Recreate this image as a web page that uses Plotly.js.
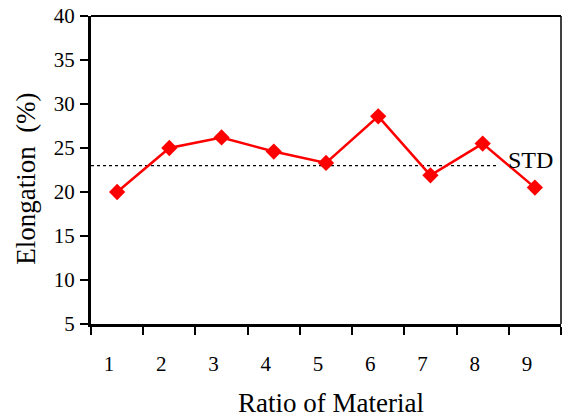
<!DOCTYPE html>
<html>
<head>
<meta charset="utf-8">
<script src="https://cdn.plot.ly/plotly-3.0.1.min.js"></script>
<style>html,body{margin:0;padding:0;background:#fff;}#chart{width:563px;height:417px;}</style>
</head>
<body>
<div id="chart"></div>
<script>
// Data
var categories = [1, 2, 3, 4, 5, 6, 7, 8, 9];
var elongation = [20.0, 25.0, 26.2, 24.6, 23.3, 28.6, 21.9, 25.5, 20.5];
var stdValue = 23.0;
var stdLineX = [0.5, 8.31];
var stdLabel = "STD";
var yTicks = [5, 10, 15, 20, 25, 30, 35, 40];
var xBoundaries = [0.5, 1.5, 2.5, 3.5, 4.5, 5.5, 6.5, 7.5, 8.5, 9.5];
var xTitle = "Ratio of Material";
var yTitle = "Elongation&nbsp;&nbsp;(%)";

var font = "Liberation Serif, Times New Roman, serif";

var traces = [
  {
    x: stdLineX,
    y: [stdValue, stdValue],
    mode: "lines",
    line: {color: "black", width: 1.3, dash: "dot"},
    hoverinfo: "skip",
    showlegend: false
  },
  {
    x: categories,
    y: elongation,
    mode: "lines+markers",
    line: {color: "#ff0000", width: 2.5},
    marker: {symbol: "diamond", size: 12.5, color: "#ff0000"},
    showlegend: false
  }
];

var layout = {
  width: 563,
  height: 417,
  margin: {l: 91, r: 2, t: 16, b: 93, pad: 0},
  paper_bgcolor: "white",
  plot_bgcolor: "white",
  font: {family: font, color: "black", size: 21},
  showlegend: false,
  xaxis: {
    range: [0.5, 9.5],
    tickmode: "array",
    tickvals: categories,
    ticktext: categories.map(String),
    ticks: "",
    ticklabelshift: -8,
    ticklabelstandoff: 19,
    tickfont: {family: font, size: 21, color: "black"},
    showgrid: false,
    zeroline: false,
    showline: true,
    linecolor: "black",
    linewidth: 3,
    minor: {
      tickmode: "array",
      tickvals: xBoundaries,
      ticks: "outside",
      ticklen: 8,
      tickwidth: 2,
      tickcolor: "black",
      showgrid: false
    },
    automargin: false,
    fixedrange: true
  },
  yaxis: {
    range: [5, 40],
    tickmode: "array",
    tickvals: yTicks,
    ticks: "outside",
    ticklen: 8,
    tickwidth: 2,
    tickcolor: "black",
    ticklabelstandoff: 1,
    tickfont: {family: font, size: 21, color: "black"},
    showgrid: false,
    zeroline: false,
    showline: true,
    linecolor: "black",
    linewidth: 3,
    automargin: false,
    fixedrange: true
  },
  shapes: [
    {type: "line", xref: "paper", yref: "paper", x0: 0, x1: 1, y0: 1, y1: 1, line: {color: "black", width: 2}},
    {type: "line", xref: "paper", yref: "paper", x0: 1, x1: 1, y0: 0, y1: 1, line: {color: "black", width: 1.5}}
  ],
  annotations: [
    {
      x: 8.45, y: stdValue + 0.6, xref: "x", yref: "y",
      text: stdLabel, showarrow: false, xanchor: "left", yanchor: "middle",
      font: {family: font, size: 24, color: "black"}
    },
    {
      x: 0.51, y: -0.255, xref: "paper", yref: "paper",
      text: xTitle, showarrow: false, xanchor: "center", yanchor: "middle",
      font: {family: font, size: 27, color: "black"}
    },
    {
      x: -0.137, y: 0.47, xref: "paper", yref: "paper",
      text: yTitle, textangle: -90, showarrow: false, xanchor: "center", yanchor: "middle",
      font: {family: font, size: 27, color: "black"}
    }
  ]
};

Plotly.newPlot("chart", traces, layout, {displayModeBar: false, staticPlot: true});
</script>
</body>
</html>
